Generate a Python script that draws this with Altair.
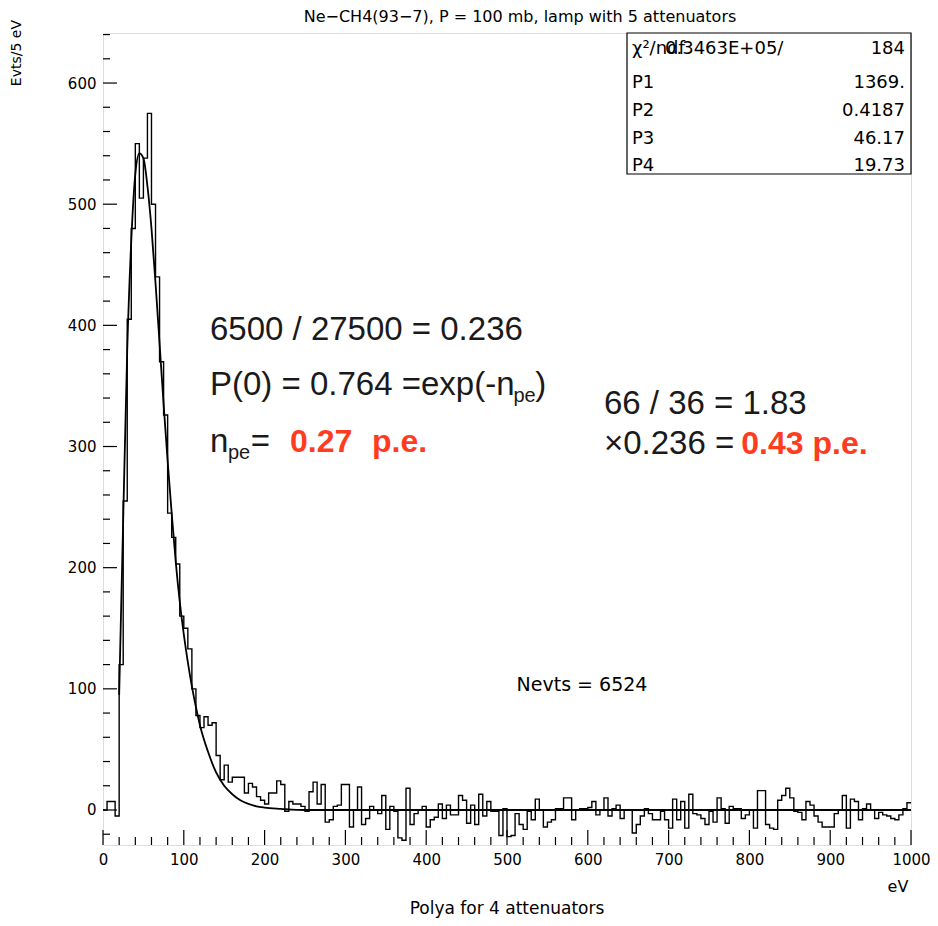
import altair as alt
import pandas as pd

# ---------------- data ----------------
bin_lo = list(range(0, 1000, 5))  # lower edges of the 5 eV bins
counts = [
    0, 7, 7, -5, 120, 255, 405, 480, 550, 505, 538, 575, 500, 440, 370, 326, 245, 225, 203, 160,
    150, 133, 100, 78, 68, 77, 70, 72, 45, 25, 37, 23, 27, 27, 27, 14, 22, 19, 11, 8,
    5, 14, 14, 24, 21, -1, 7, 5, 5, 3, -1, 15, 23, 5, 21, -10, -8, 3, 4, 21,
    21, -14, 0, 19, -12, -7, 3, 0, -3, 12, -16, 3, -1, -23, -25, 18, -12, -3, 0, 3,
    -14, -8, -6, 5, -7, 4, -4, -4, 12, 8, -11, 4, -12, 13, -5, 7, -1, -1, -21, 1,
    -22, -21, -3, -12, -16, -1, -8, 9, 0, -14, -10, -8, 1, 1, 10, 10, -8, 0, 1, 1,
    2, 7, -4, 0, 10, -5, 1, 4, -7, 0, 0, -19, -12, -5, 1, -3, -8, -8, -1, -8,
    -15, 9, -8, 7, -15, 13, -3, -4, -7, -12, -1, -10, 10, 1, -11, 3, 1, 1, -7, -4,
    0, -15, 16, 16, -12, -15, -16, 8, 12, 18, 10, -1, -2, -8, 7, 4, -5, -10, -14, -14,
    -14, -3, 0, 12, -15, 9, 7, -8, 1, 5, 0, -7, -2, -4, -5, -7, -8, -4, 1, 6,
]
bin_width = 5

fit_x = [20, 25, 30, 35, 40, 45, 50, 55, 60, 65, 70, 75, 80, 85, 90, 95, 100, 105, 110,
         115, 120, 130, 140, 150, 160, 170, 180, 190, 200, 220, 250, 300, 1000]
fit_y = [95, 240, 380, 470, 525, 542, 538, 515, 480, 435, 385, 335, 288, 245, 205, 172,
         145, 122, 102, 85, 70, 48, 31, 20, 13, 8, 5, 3, 2, 1, 0, 0, 0]

x_ticks_major = [0, 100, 200, 300, 400, 500, 600, 700, 800, 900, 1000]
x_ticks_minor = [v for v in range(0, 1001, 20) if v % 100]
y_ticks_major = [0, 100, 200, 300, 400, 500, 600]
y_ticks_minor = [v for v in range(-20, 641, 20) if v % 100]

title_text = "Ne\u2212CH4(93\u22127), P = 100 mb, lamp with 5 attenuators"
x_title = "Polya for 4 attenuators"
y_title = "Evts/5 eV"
x_unit = "eV"

stat_labels = ["P1", "P2", "P3", "P4"]
stat_values = ["1369.", "0.4187", "46.17", "19.73"]
chi_label = "\u03c7\u00b2/ndf"
chi_value = "0.3463E+05/"
ndf_value = "184"
nevts_text = "Nevts = 6524"

# annotation texts (position in eV / counts)
black_big = pd.DataFrame({
    "x": [132.4, 132.4, 535.0, 132.4, 183.0, 620.0, 620.0],
    "y": [387.9, 342.5, 342.5, 295.5, 295.5, 326.8, 293.8],
    "t": ["6500 / 27500 = 0.236", "P(0) = 0.764 =exp(-n", ")", "n", "=",
          "66 / 36 = 1.83", "\u00d70.236 ="],
})
black_sub = pd.DataFrame({"x": [508.0, 154.7], "y": [336.7, 289.7], "t": ["pe", "pe"]})
red_big = pd.DataFrame({"x": [231.4, 333.0, 790.0], "y": [295.5, 295.5, 293.8],
                        "t": ["0.27", "p.e.", "0.43 p.e."]})
nevts_pos = pd.DataFrame({"x": [592.8], "y": [103.2], "t": [nevts_text]})

# ---------------- chart ----------------
W, H = 808, 812
XDOM = [0, 1000]
YDOM = [-28.9, 641.3]
xs = alt.Scale(domain=XDOM, nice=False, zero=False)
ys = alt.Scale(domain=YDOM, nice=False, zero=False)
FONT = "DejaVu Sans"
BIG = "Liberation Sans"

hist_df = pd.DataFrame({"x": bin_lo + [bin_lo[-1] + bin_width],
                        "y": counts + [counts[-1]]})
fit_df = pd.DataFrame({"x": fit_x, "y": fit_y})

hist = alt.Chart(hist_df).mark_line(
    interpolate="step-after", color="black", strokeWidth=1.4
).encode(
    x=alt.X("x:Q", scale=xs, title=None,
            axis=alt.Axis(values=x_ticks_major, ticks=False, domain=False, grid=False,
                          format="d",
                          labelFont=FONT, labelFontSize=15, labelColor="black",
                          labelPadding=7, labelOverlap=False, labelFlush=False)),
    y=alt.Y("y:Q", scale=ys, title=None,
            axis=alt.Axis(values=y_ticks_major, ticks=False, domain=False, grid=False,
                          format="d",
                          labelFont=FONT, labelFontSize=15, labelColor="black",
                          labelPadding=7, labelOverlap=False, labelFlush=False)),
)

fit = alt.Chart(fit_df).mark_line(
    interpolate="monotone", color="black", strokeWidth=1.8
).encode(x=alt.X("x:Q", scale=xs), y=alt.Y("y:Q", scale=ys))


def xtick(vals, length):
    return alt.Chart(pd.DataFrame({"xt": vals})).mark_tick(
        orient="vertical", size=length, thickness=1.2, color="black", opacity=1,
        yOffset=-length / 2
    ).encode(x=alt.X("xt:Q", scale=xs), y=alt.value(H))


def ytick(vals, length):
    return alt.Chart(pd.DataFrame({"yt": vals})).mark_tick(
        orient="horizontal", size=length, thickness=1.2, color="black", opacity=1,
        xOffset=length / 2
    ).encode(y=alt.Y("yt:Q", scale=ys), x=alt.value(0))


dummy = pd.DataFrame({"a": [0]})

def ptext(txt, px, py, size=18, align="left", baseline="middle", angle=0, font=FONT):
    kw = dict(align=align, baseline=baseline, fontSize=size, font=font, color="black")
    if angle:
        kw["angle"] = angle
    return alt.Chart(dummy).mark_text(**kw).encode(
        x=alt.value(px), y=alt.value(py), text=alt.value(txt))

def dtext(df, size, color, weight="normal", font=BIG):
    return alt.Chart(df).mark_text(
        align="left", baseline="alphabetic", fontSize=size, font=font,
        color=color, fontWeight=weight
    ).encode(x=alt.X("x:Q", scale=xs), y=alt.Y("y:Q", scale=ys), text="t:N")

# stats box
box = alt.Chart(dummy).mark_rect(fill="white", stroke="black", strokeWidth=1.2).encode(
    x=alt.value(524), x2=alt.value(W), y=alt.value(0), y2=alt.value(141))

row_y = [50, 78, 106, 133]
stat_layers = [ptext(chi_label, 529, 16), ptext(chi_value, 562, 16),
               ptext(ndf_value, 802, 16, align="right")]
for lab, val, ry in zip(stat_labels, stat_values, row_y):
    stat_layers.append(ptext(lab, 529, ry))
    stat_layers.append(ptext(val, 802, ry, align="right"))

layers = [
    fit, hist,
    xtick(x_ticks_major, 15), xtick(x_ticks_minor, 8),
    ytick(y_ticks_major, 14), ytick(y_ticks_minor, 7),
    dtext(black_big, 33, "#1a1a1a"),
    dtext(black_sub, 20, "#1a1a1a"),
    dtext(red_big, 32, "#ff3c1e", weight="bold"),
    alt.Chart(nevts_pos).mark_text(align="center", baseline="middle", fontSize=19,
                                   font=FONT, color="black").encode(
        x=alt.X("x:Q", scale=xs), y=alt.Y("y:Q", scale=ys), text="t:N"),
    box,
] + stat_layers + [
    ptext(title_text, 417, -11, size=16, align="center", baseline="alphabetic"),
    ptext(x_title, 404, 881, size=17, align="center", baseline="alphabetic"),
    ptext(x_unit, 795, 854, size=16, align="center"),
    ptext(y_title, -86, -13, size=14, align="right", angle=270),
]

chart = alt.layer(*layers).properties(
    width=W, height=H,
    autosize=alt.AutoSizeParams(type="none"),
    padding={"left": 95, "top": 25, "right": 19, "bottom": 73},
).configure_view(stroke="black", strokeWidth=1.2).configure(background="white")

chart.save("out.html", embed_options={"renderer": "svg", "actions": False})
